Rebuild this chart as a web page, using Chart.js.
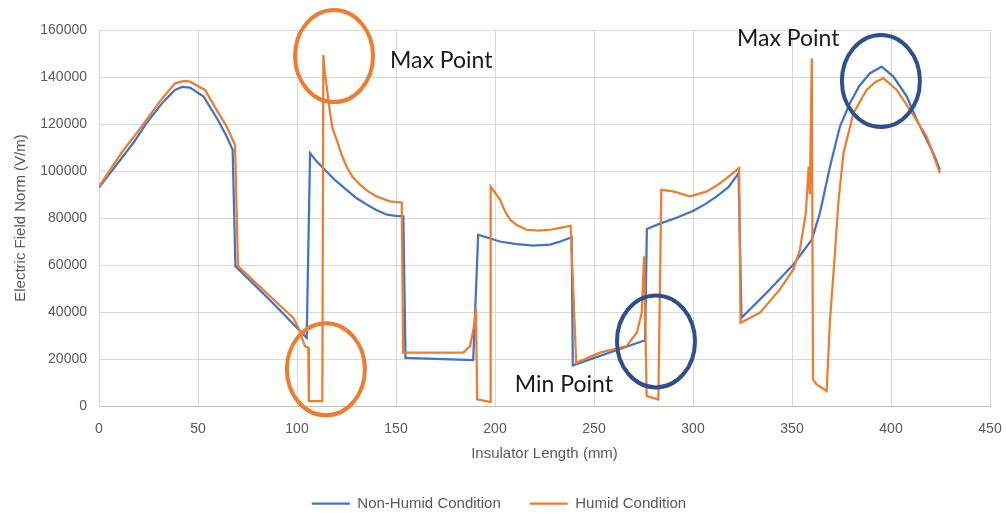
<!DOCTYPE html>
<html>
<head>
<meta charset="utf-8">
<script src="https://cdn.jsdelivr.net/npm/chart.js@4/dist/chart.umd.min.js"></script>
<style>
  html, body { margin: 0; padding: 0; background: #fff; }
  #wrap { width: 1006px; height: 513px; }
</style>
</head>
<body>
<div id="wrap"><canvas id="myChart" width="1006" height="513"></canvas></div>
<script>
// axis ticks
const xTicks = [0, 50, 100, 150, 200, 250, 300, 350, 400, 450]
const yTicks = [0, 20000, 40000, 60000, 80000, 100000, 120000, 140000, 160000]

// Non-Humid Condition
const nonHumidX = [0, 5.6, 17.3, 24, 32.5, 38.4, 42, 46, 52.8, 60, 64.5, 67.5, 68.9, 86.4, 104.9, 106.6, 110, 113.3, 119, 125, 130, 135.3, 140, 145.5, 150, 153.7, 154.8, 189, 191.5, 202.5, 210, 219.3, 227.8, 233, 238.7, 239.3, 275.8, 276.7, 283.3, 292, 300.2, 306, 312, 318, 323, 324.5, 337.2, 350.7, 360, 364.1, 369.2, 374.2, 379.3, 384, 389.4, 395.3, 401.2, 408, 413, 421.4, 424.7]
const nonHumidY = [93000, 99100, 111900, 120400, 129500, 134500, 135800, 135500, 131700, 121800, 114700, 109000, 59500, 45000, 29000, 107600, 104000, 101200, 96300, 92000, 88500, 85700, 83400, 81400, 80900, 80700, 20500, 19500, 72900, 70000, 69000, 68200, 68700, 70000, 71800, 17300, 28000, 75300, 77600, 80200, 83100, 85800, 89200, 93200, 99100, 37500, 48200, 60200, 70800, 82100, 101900, 118900, 128900, 136200, 141600, 144400, 140200, 131700, 121800, 107600, 100500]

// Humid Condition
const humidX = [0, 5.6, 12, 19, 25.8, 32, 38.4, 43, 46, 53.5, 59.4, 64.5, 68.7, 70.2, 86.4, 98.1, 100.7, 104, 105.7, 106, 112.8, 113.3, 114, 115, 116.7, 118, 120, 122.5, 125, 128, 131.8, 136, 140.2, 146.9, 152.9, 153.6, 184, 187.4, 189.4, 190.4, 191, 197.5, 197.8, 202.5, 205, 207.6, 211, 216, 222, 227.8, 233, 238.2, 241, 253, 266.5, 271.6, 274.1, 275.3, 276.6, 282.5, 284, 290, 298.5, 307, 312, 317, 323.3, 324, 333.8, 343.9, 350.7, 354, 357, 358.4, 359, 360, 360.6, 362.4, 367.5, 369.2, 371.7, 373.4, 376, 381, 387.7, 392, 396.1, 402.9, 409.6, 418, 424.7]
const humidY = [93400, 100500, 108500, 116100, 123900, 131000, 137300, 138300, 138000, 134500, 126000, 118900, 111100, 59500, 46700, 37500, 33300, 25500, 24800, 2100, 2100, 149400, 142000, 135900, 124600, 118000, 113300, 107000, 101900, 97500, 94200, 91300, 89200, 87100, 86600, 22700, 22700, 25500, 34000, 41800, 2800, 1800, 93400, 87800, 83000, 79300, 77000, 75000, 74600, 75000, 75800, 76700, 18400, 22700, 25500, 31200, 39700, 63700, 4200, 2800, 92000, 91300, 89200, 91300, 93800, 97000, 101200, 35400, 39700, 49600, 58100, 66600, 82100, 101900, 90000, 148000, 11300, 9200, 6400, 36800, 65100, 86400, 107600, 124600, 134500, 137800, 139500, 134500, 126000, 114700, 99100]

const notes = [
    {type: 'ellipse', x: 118.7, y: 148900, color: '#ED7D31'},
    {type: 'ellipse', x: 114.6, y: 15600, color: '#ED7D31'},
    {type: 'ellipse', x: 281.3, y: 27500, color: '#2F4F8F'},
    {type: 'ellipse', x: 394.9, y: 138300, color: '#2F4F8F'},
    {type: 'text', x: 147, y: 147200, text: 'Max Point'},
    {type: 'text', x: 210, y: 9200, text: 'Min Point'},
    {type: 'text', x: 322.2, y: 156500, text: 'Max Point'}
]

function toPoints(xs, ys) {
    return xs.map((x, i) => ({x: x, y: ys[i]}))
}

const notePlugin = {
    id: 'notes',
    afterDatasetsDraw(chart) {
        const ctx = chart.ctx
        const xs = chart.scales.x, ys = chart.scales.y
        ctx.save()
        notes.forEach(n => {
            const px = xs.getPixelForValue(n.x)
            const py = ys.getPixelForValue(n.y)
            if (n.type == 'ellipse') {
                ctx.beginPath()
                ctx.ellipse(px, py, 39, 46, 0, 0, Math.PI * 2)
                ctx.strokeStyle = n.color
                ctx.lineWidth = 4
                ctx.stroke()
            } else {
                ctx.font = '23px Lato, "Open Sans", sans-serif'
                ctx.fillStyle = '#1a1a1a'
                ctx.textBaseline = 'middle'
                ctx.textAlign = 'left'
                ctx.fillText(n.text, px, py)
            }
        })
        ctx.restore()
    }
}

function drawChart() {
    const ctx = document.getElementById('myChart')
    const font = '"Liberation Sans", sans-serif'

    const data = {
        datasets: [
            {
                label: 'Non-Humid Condition',
                data: toPoints(nonHumidX, nonHumidY),
                borderColor: '#4472C4',
                backgroundColor: '#4472C4',
                borderWidth: 2.25,
                order: 1
            },
            {
                label: 'Humid Condition',
                data: toPoints(humidX, humidY),
                borderColor: '#ED7D31',
                backgroundColor: '#ED7D31',
                borderWidth: 2.25,
                order: 0
            }
        ]
    }

    const config = {
        type: 'scatter',
        data: data,
        options: {
            responsive: false,
            animation: false,
            showLine: true,
            elements: {point: {radius: 0, hoverRadius: 0}, line: {tension: 0}},
            layout: {padding: {left: 8, right: 16, top: 30, bottom: -8}},
            scales: {
                x: {
                    type: 'linear', min: 0, max: 450,
                    afterBuildTicks: s => { s.ticks = xTicks.map(v => ({value: v})) },
                    afterFit: s => { s.height = 61; s.paddingLeft = 0; s.paddingRight = 0 },
                    ticks: {color: '#595959', font: {family: font, size: 14}, padding: 15, callback: v => String(v)},
                    grid: {color: '#d9d9d9', drawTicks: false},
                    border: {color: '#bfbfbf'},
                    title: {display: true, text: 'Insulator Length (mm)', color: '#595959', font: {family: font, size: 15}, padding: {top: 2, bottom: 4}}
                },
                y: {
                    type: 'linear', min: 0, max: 160000,
                    afterBuildTicks: s => { s.ticks = yTicks.map(v => ({value: v})) },
                    afterFit: s => { s.width = 91; s.paddingTop = 0; s.paddingBottom = 0 },
                    ticks: {color: '#595959', font: {family: font, size: 14}, padding: 12, callback: v => String(v)},
                    grid: {color: '#d9d9d9', drawTicks: false},
                    border: {color: '#d9d9d9'},
                    title: {display: true, text: 'Electric Field Norm (V/m)', color: '#595959', font: {family: font, size: 15}, padding: {bottom: 4}}
                }
            },
            plugins: {
                legend: {
                    position: 'bottom',
                    labels: {
                        usePointStyle: true, pointStyle: 'line', pointStyleWidth: 38,
                        color: '#595959', font: {family: font, size: 15}, padding: 29,
                        sort: (a, b) => a.datasetIndex - b.datasetIndex
                    }
                },
                tooltip: {enabled: false}
            }
        },
        plugins: [notePlugin]
    }

    new Chart(ctx, config)
}

document.addEventListener('DOMContentLoaded', drawChart)
</script>
</body>
</html>
